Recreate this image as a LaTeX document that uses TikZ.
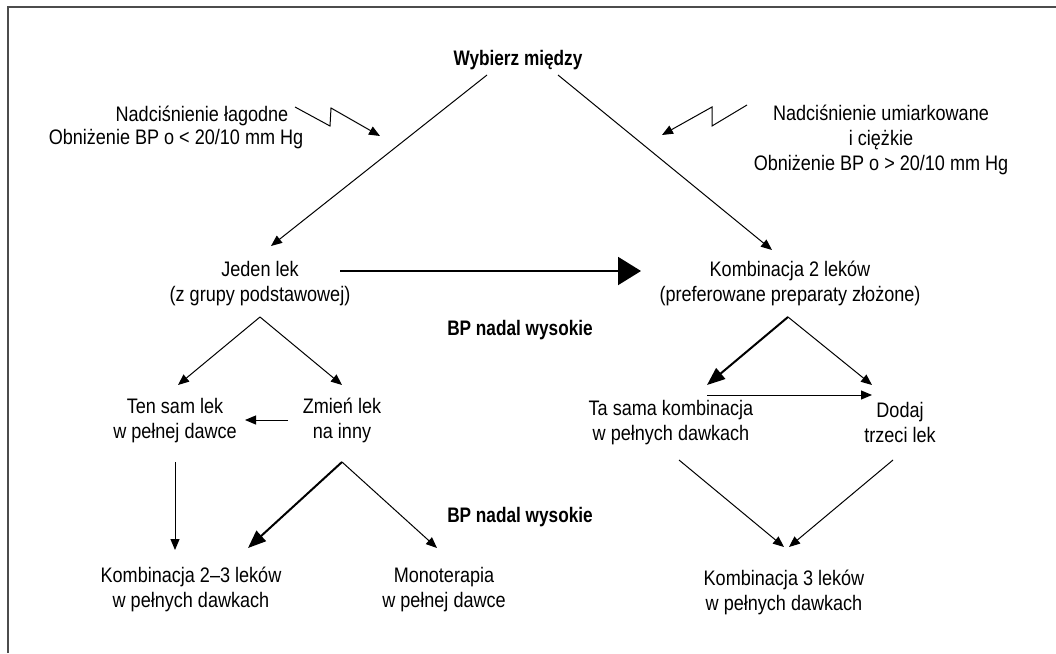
\documentclass[tikz,border=0pt]{standalone}
\usepackage{fontspec}
\setmainfont{Liberation Sans}[FakeStretch=0.86, BoldFeatures={FakeStretch=0.82}]
\usetikzlibrary{arrows.meta}

\tikzset{
    txt/.style={align=center, inner sep=0pt, font=\fontsize{21}{25}\selectfont},
    boldtxt/.style={txt, font=\fontsize{21}{25}\selectfont\bfseries},
    ln/.style={line width=1pt},
    arr/.style={ln, -{Triangle[length=11pt,width=9pt]}},
    heavyarr/.style={line width=2pt, -{Triangle[length=18pt,width=14pt]}},
    bigarr/.style={line width=2pt, -{Triangle[length=23pt,width=28pt]}}
}

\begin{document}
\begin{tikzpicture}[x=1pt,y=-1pt]
        \useasboundingbox (0,0) rectangle (1056,653);
        \draw[line width=2pt, black!70] (8,653) -- (8,7) -- (1056,7);

        \node[boldtxt] (ch) at (518,60) {Wybierz między};
        \node[boldtxt] (hi1) at (520,330) {BP nadal wysokie};
        \node[boldtxt] (hi2) at (520,517) {BP nadal wysokie};

        \node[txt] (ml1) at (202,116) {Nadciśnienie łagodne};
        \node[txt] (ml2) at (176,139) {Obniżenie BP o < 20/10 mm Hg};
        \node[txt] (sv) at (881,140) {Nadciśnienie umiarkowane\\i ciężkie\\Obniżenie BP o > 20/10 mm Hg};

        \node[txt] (d1) at (260,283.5) {Jeden lek\\(z grupy podstawowej)};
        \node[txt] (d2) at (790,283.5) {Kombinacja 2 leków\\(preferowane preparaty złożone)};
        \node[txt] (sa) at (175,420.5) {Ten sam lek\\w pełnej dawce};
        \node[txt] (sw) at (342,420.5) {Zmień lek\\na inny};
        \node[txt] (sc) at (671,422.5) {Ta sama kombinacja\\w pełnych dawkach};
        \node[txt] (ad) at (900,422) {Dodaj\\trzeci lek};
        \node[txt] (c23) at (191,589.5) {Kombinacja 2–3 leków\\w pełnych dawkach};
        \node[txt] (mo) at (444,589.5) {Monoterapia\\w pełnej dawce};
        \node[txt] (c3) at (784,592.5) {Kombinacja 3 leków\\w pełnych dawkach};

        % connector ends
        \coordinate (chL) at (487,75);
        \coordinate (chR) at (558,75);
        \coordinate (d1T) at (271,246);
        \coordinate (d2T) at (772,250);
        \coordinate (d1R) at (340,271);
        \coordinate (d2L) at (641,271);
        \coordinate (d1B) at (260,317);
        \coordinate (d2B) at (788,317);
        \coordinate (saT) at (178,385);
        \coordinate (swT) at (342,385);
        \coordinate (swL) at (288,420);
        \coordinate (saR) at (245,420);
        \coordinate (saB) at (175,462);
        \coordinate (swB) at (342,462);
        \coordinate (scT) at (707,385);
        \coordinate (adT) at (872,385);
        \coordinate (scR) at (707,395);
        \coordinate (adL) at (872,395);
        \coordinate (scB) at (679,460);
        \coordinate (adB) at (893,460);
        \coordinate (c23T) at (175,550);
        \coordinate (c23R) at (248,548);
        \coordinate (moT) at (437,548);
        \coordinate (c3L) at (784,547);
        \coordinate (c3R) at (789,547);

        \foreach \a/\b in {chL/d1T, chR/d2T, d1B/saT, d1B/swT, swL/saR, saB/c23T,
                           swB/moT, d2B/adT, scR/adL, scB/c3L, adB/c3R}
            \draw[arr] (\a) -- (\b);

        \draw[heavyarr] (swB) -- (c23R);
        \draw[heavyarr] (d2B) -- (scT);
        \draw[bigarr] (d1R) -- (d2L);

        \draw[arr] (295,107) -- (330,126) -- (331,108) -- (380,136);
        \draw[arr] (747,105) -- (712,126) -- (712,107) -- (662,135);
\end{tikzpicture}
\end{document}
